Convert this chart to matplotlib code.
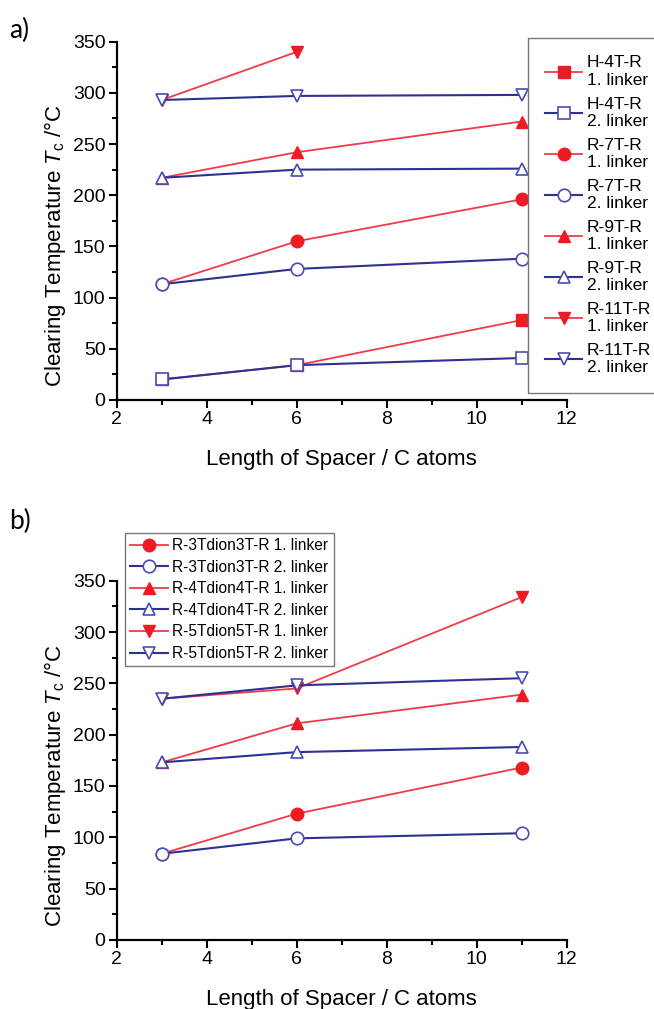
import numpy as np
import matplotlib
matplotlib.use("Agg")
import matplotlib.pyplot as plt
from matplotlib.ticker import MultipleLocator

# ===============================
# Data
# ===============================
spacer = [3, 6, 11]

# panel a
h4t_1 = [20, 34, 78]
h4t_2 = [20, 34, 41]
r7t_1 = [113, 155, 196]
r7t_2 = [113, 128, 138]
r9t_1 = [217, 242, 272]
r9t_2 = [217, 225, 226]
r11t_1 = [293, 340, np.nan]
r11t_2 = [293, 297, 298]

# panel b
r3_1 = [84, 123, 168]
r3_2 = [84, 99, 104]
r4_1 = [173, 211, 239]
r4_2 = [173, 183, 188]
r5_1 = [235, 245, 334]
r5_2 = [235, 248, 255]

labels_a = ["H-4T-R\n1. linker", "H-4T-R\n2. linker",
            "R-7T-R\n1. linker", "R-7T-R\n2. linker",
            "R-9T-R\n1. linker", "R-9T-R\n2. linker",
            "R-11T-R\n1. linker", "R-11T-R\n2. linker"]
labels_b = ["R-3Tdion3T-R 1. linker", "R-3Tdion3T-R 2. linker",
            "R-4Tdion4T-R 1. linker", "R-4Tdion4T-R 2. linker",
            "R-5Tdion5T-R 1. linker", "R-5Tdion5T-R 2. linker"]

# ===============================
# Style
# ===============================
RED = "#ED1C24"
RED_LINE = "#F03A4A"
BLUE = "#2E3192"
BLUE_MARK = "#4B4BB4"

plt.rcParams["font.family"] = ["Liberation Sans", "DejaVu Sans"]
plt.rcParams["mathtext.fontset"] = "custom"
plt.rcParams["mathtext.rm"] = "Liberation Sans"
plt.rcParams["mathtext.it"] = "Liberation Sans:italic"


def draw_series(ax, y, marker, filled, label):
    if filled:
        ax.plot(spacer, y, color=RED_LINE, lw=1.3, marker=marker, ms=9,
                mfc=RED, mec=RED, label=label)
    else:
        ax.plot(spacer, y, color=BLUE, lw=1.5, marker=marker, ms=9,
                mfc="white", mec=BLUE_MARK, mew=1.2, label=label)


def style_axes(ax):
    ax.set_xlim(2, 12)
    ax.set_ylim(0, 350)
    ax.xaxis.set_major_locator(MultipleLocator(2))
    ax.xaxis.set_minor_locator(MultipleLocator(1))
    ax.yaxis.set_major_locator(MultipleLocator(50))
    ax.yaxis.set_minor_locator(MultipleLocator(25))
    for s in ["top", "right"]:
        ax.spines[s].set_visible(False)
    for s in ["left", "bottom"]:
        ax.spines[s].set_linewidth(1.6)
    ax.tick_params(which="major", direction="out", length=6, width=1.5,
                   labelsize=14, pad=2)
    ax.tick_params(which="minor", direction="out", length=3.5, width=1.5)
    ax.set_xlabel("Length of Spacer / C atoms", fontsize=16, labelpad=15)
    ax.set_ylabel(r"Clearing Temperature $\mathit{T}_\mathrm{c}$ /°C",
                  fontsize=16)
    ax.yaxis.set_label_coords(-0.108, 0.43)
    for ln in ax.get_lines():
        ln.set_clip_on(False)


fig = plt.figure(figsize=(6.54, 10.09), dpi=100)
ax_a = fig.add_axes([0.1784, 0.6036, 0.688, 0.3551])
ax_b = fig.add_axes([0.1784, 0.0684, 0.688, 0.3561])

# ===============================
# Panel a
# ===============================
series_a = [(h4t_1, "s", True), (h4t_2, "s", False),
            (r7t_1, "o", True), (r7t_2, "o", False),
            (r9t_1, "^", True), (r9t_2, "^", False),
            (r11t_1, "v", True), (r11t_2, "v", False)]
for (y, m, f), lab in zip(series_a, labels_a):
    draw_series(ax_a, y, m, f, lab)
style_axes(ax_a)
leg_a = ax_a.legend(loc="upper left", bbox_to_anchor=(0.914, 1.01),
                    fontsize=12.5, labelspacing=0.5, handlelength=2.1,
                    handletextpad=0.3, borderpad=1.0, fancybox=False,
                    framealpha=1, edgecolor="#777777", borderaxespad=0)
leg_a.get_frame().set_linewidth(1.0)

# ===============================
# Panel b
# ===============================
series_b = [(r3_1, "o", True), (r3_2, "o", False),
            (r4_1, "^", True), (r4_2, "^", False),
            (r5_1, "v", True), (r5_2, "v", False)]
for (y, m, f), lab in zip(series_b, labels_b):
    draw_series(ax_b, y, m, f, lab)
style_axes(ax_b)
leg_b = ax_b.legend(loc="upper left", bbox_to_anchor=(0.018, 1.133),
                    fontsize=11.2, labelspacing=0.42, handlelength=2.4,
                    handletextpad=0.3, borderpad=0.35, fancybox=False,
                    framealpha=1, edgecolor="#777777", borderaxespad=0)
leg_b.get_frame().set_linewidth(1.0)

# panel letters
fig.text(0.014, 0.970, "a)", fontsize=19, family=["Lato", "DejaVu Sans"],
         va="center")
fig.text(0.014, 0.483, "b)", fontsize=19, family=["Lato", "DejaVu Sans"],
         va="center")

fig.savefig("out.png", dpi=100)
